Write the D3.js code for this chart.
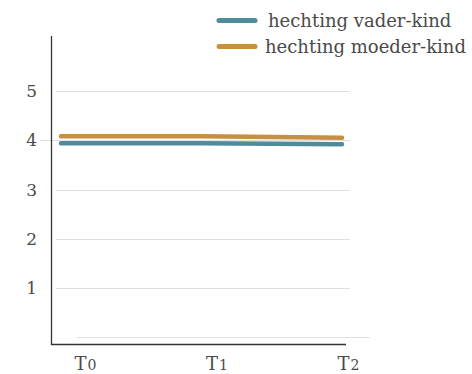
<!DOCTYPE html>
<html>
<head>
<meta charset="utf-8">
<script src="https://cdn.jsdelivr.net/npm/d3@7"></script>
<style>
  html, body { margin: 0; padding: 0; background: #fff; }
  svg { display: block; }
  text { font-family: "DejaVu Serif", "Liberation Serif", serif; fill: #4a4a4a; }
</style>
</head>
<body>
<svg id="chart" width="472" height="374"></svg>
<script>
// Meetmomenten en gemiddelde hechtingsscores
const momenten = ["T0", "T1", "T2"];
const vaderKind = [3.94, 3.94, 3.92];
const moederKind = [4.08, 4.08, 4.05];
const yTicks = [1, 2, 3, 4, 5];
const reeksen = [
  { naam: "hechting vader-kind", waarden: vaderKind, kleur: "#508b9c" },
  { naam: "hechting moeder-kind", waarden: moederKind, kleur: "#c68f42" }
];

const svg = d3.select("#chart");

const y = d3.scaleLinear().domain([0, 5]).range([337.5, 91]);
const xData = d3.scalePoint().domain(momenten).range([61, 342]);
const xLabel = d3.scalePoint().domain(momenten).range([85, 348]);

// rasterlijnen
const grid = svg.append("g");
grid.selectAll("line.g")
  .data(yTicks)
  .join("line")
  .attr("x1", d => d === 4 ? 40 : 56)
  .attr("x2", 350)
  .attr("y1", d => Math.round(y(d)) + 0.5)
  .attr("y2", d => Math.round(y(d)) + 0.5)
  .attr("stroke", "#e0e0e0")
  .attr("stroke-width", 1);
grid.append("line")
  .attr("x1", 77).attr("x2", 370)
  .attr("y1", Math.round(y(0)) - 0.5).attr("y2", Math.round(y(0)) - 0.5)
  .attr("stroke", "#e0e0e0");

// y-as
const yAxis = d3.axisLeft(y).tickValues(yTicks).tickFormat(d3.format("d"))
  .tickSize(0).tickPadding(0);
const gy = svg.append("g").attr("transform", "translate(37,0)").call(yAxis);
gy.select(".domain").remove();
gy.selectAll("text").attr("font-size", 17).attr("fill", "#4a4a4a")
  .attr("font-family", "DejaVu Serif, serif");

// x-as labels: cijfer kleiner, als mediaevale cijfers
const xAxis = d3.axisBottom(xLabel).tickSize(0).tickPadding(0).tickFormat("");
const gx = svg.append("g").attr("transform", "translate(0,357)").call(xAxis);
gx.select(".domain").remove();
gx.selectAll(".tick text")
  .attr("font-size", 18).attr("fill", "#4a4a4a")
  .attr("font-family", "DejaVu Serif, serif")
  .each(function (d) {
    const t = d3.select(this);
    t.append("tspan").text(d.slice(0, 1));
    t.append("tspan").attr("font-size", 14).attr("dx", 1).text(d.slice(1));
  });

// aslijnen
svg.append("path")
  .attr("d", "M51.5,36V344.5H346")
  .attr("fill", "none")
  .attr("stroke", "#333")
  .attr("stroke-width", 1.3);

// lijnen
const line = d3.line()
  .x((d, i) => xData(momenten[i]))
  .y(d => y(d));

svg.append("g").selectAll("path")
  .data(reeksen)
  .join("path")
  .attr("d", d => line(d.waarden))
  .attr("fill", "none")
  .attr("stroke", d => d.kleur)
  .attr("stroke-width", 4.5)
  .attr("stroke-linecap", "round");

// legenda
const leg = svg.append("g").selectAll("g")
  .data(reeksen)
  .join("g")
  .attr("transform", (d, i) => `translate(0,${i === 0 ? 20.5 : 46.5})`);
leg.append("line")
  .attr("x1", 219).attr("x2", 255)
  .attr("stroke", d => d.kleur)
  .attr("stroke-width", 5)
  .attr("stroke-linecap", "round");
leg.append("text")
  .attr("x", (d, i) => i === 0 ? 268 : 265)
  .attr("y", 6)
  .attr("font-size", 18)
  .text(d => d.naam);
</script>
</body>
</html>
